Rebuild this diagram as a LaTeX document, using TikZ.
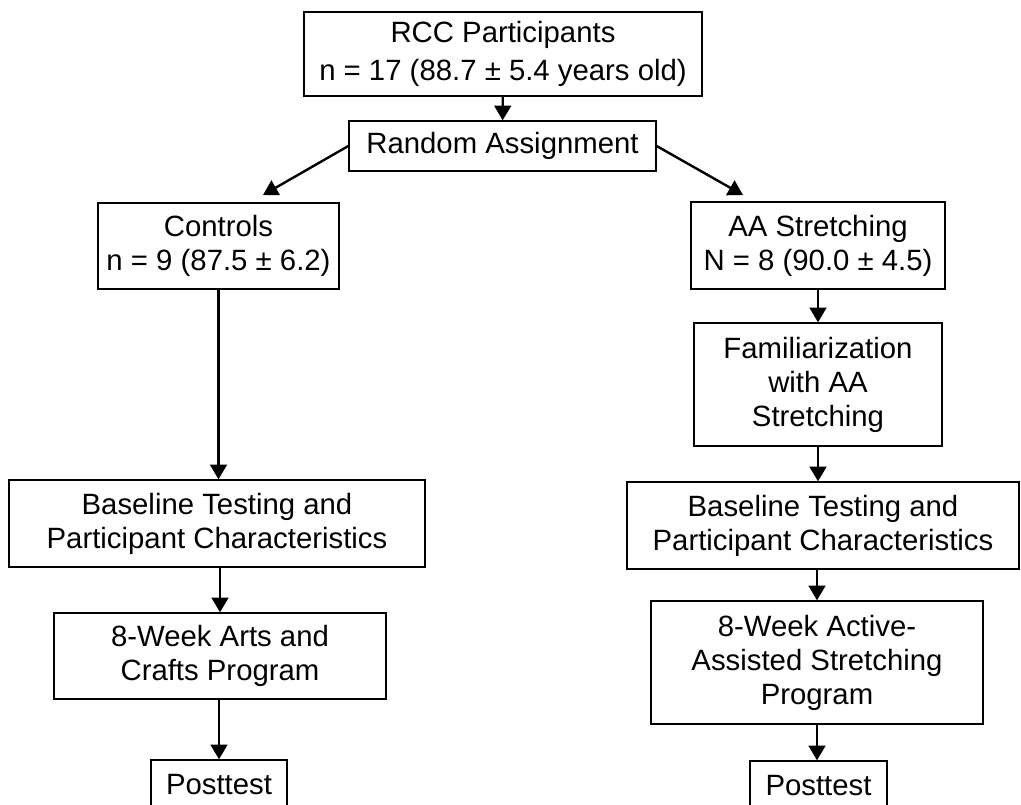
\documentclass[tikz,border=0pt]{standalone}
\usepackage{fontspec}
\setmainfont{Liberation Sans}
\usepackage{tikz}
\usetikzlibrary{arrows.meta}

\begin{document}
\begin{tikzpicture}[x=0.75pt, y=-0.75pt,
        box/.style={draw, line width=1pt, align=center, inner sep=0pt,
            font=\fontsize{22}{25.5}\selectfont},
        arr/.style={-{Triangle[width=12.5pt,length=11pt]}, line width=1.8pt}]
        \clip (0,0) rectangle (1021,805);
        \node[box, minimum width=298.5pt, minimum height=63pt] (rcc) at (503, 54) {RCC Participants\\[3pt]n = 17 (88.7 ± 5.4 years old)};
        \node[box, minimum width=230.25pt, minimum height=37.5pt] (random) at (502.5, 146) {Random Assignment};
        \coordinate (ctrlin) at (263, 195);
        \coordinate (aain) at (743, 195);
        % control group
        \node[box, minimum width=180.75pt, minimum height=64.5pt] (controls) at (218.5, 246) {Controls\\n = 9 (87.5 ± 6.2)};
        \node[box, minimum width=312pt, minimum height=65.25pt] (baseL) at (217, 523.5) {Baseline Testing and\\Participant Characteristics};
        \node[box, minimum width=249pt, minimum height=64.5pt] (progL) at (220, 656) {8-Week Arts and\\Crafts Program};
        \node[box, minimum width=102pt, minimum height=37.5pt] (postL) at (219, 785) {Posttest};
        % stretching group
        \node[box, minimum width=190.5pt, minimum height=65.25pt] (aa) at (818, 245.5) {AA Stretching\\N = 8 (90.0 ± 4.5)};
        \node[box, minimum width=186pt, minimum height=92.25pt] (famil) at (818, 384.5) {Familiarization\\with AA\\Stretching};
        \node[box, minimum width=294pt, minimum height=65.25pt] (baseR) at (823, 525.5) {Baseline Testing and\\Participant Characteristics};
        \node[box, minimum width=249pt, minimum height=92.25pt] (progR) at (817, 662.5) {8-Week Active-\\Assisted Stretching\\Program};
        \node[box, minimum width=102.75pt, minimum height=37.5pt] (postR) at (818.5, 786) {Posttest};
        \draw[arr] (rcc) -- (random);
        \draw[arr] (random.west) -- (ctrlin);
        \draw[arr] (random.east) -- (aain);
        \draw[arr] (controls) -- (controls |- baseL.north);
        \draw[arr] (progL.north |- baseL.south) -- (progL.north);
        \draw[arr] (postL.north |- progL.south) -- (postL.north);
        \draw[arr] (aa) -- (famil);
        \draw[arr] (famil) -- (famil.south |- baseR.north);
        \draw[arr] (baseR.south -| progR.north) -- (progR.north);
        \draw[arr] (progR) -- (progR.south |- postR.north);
    \end{tikzpicture}
\end{document}
